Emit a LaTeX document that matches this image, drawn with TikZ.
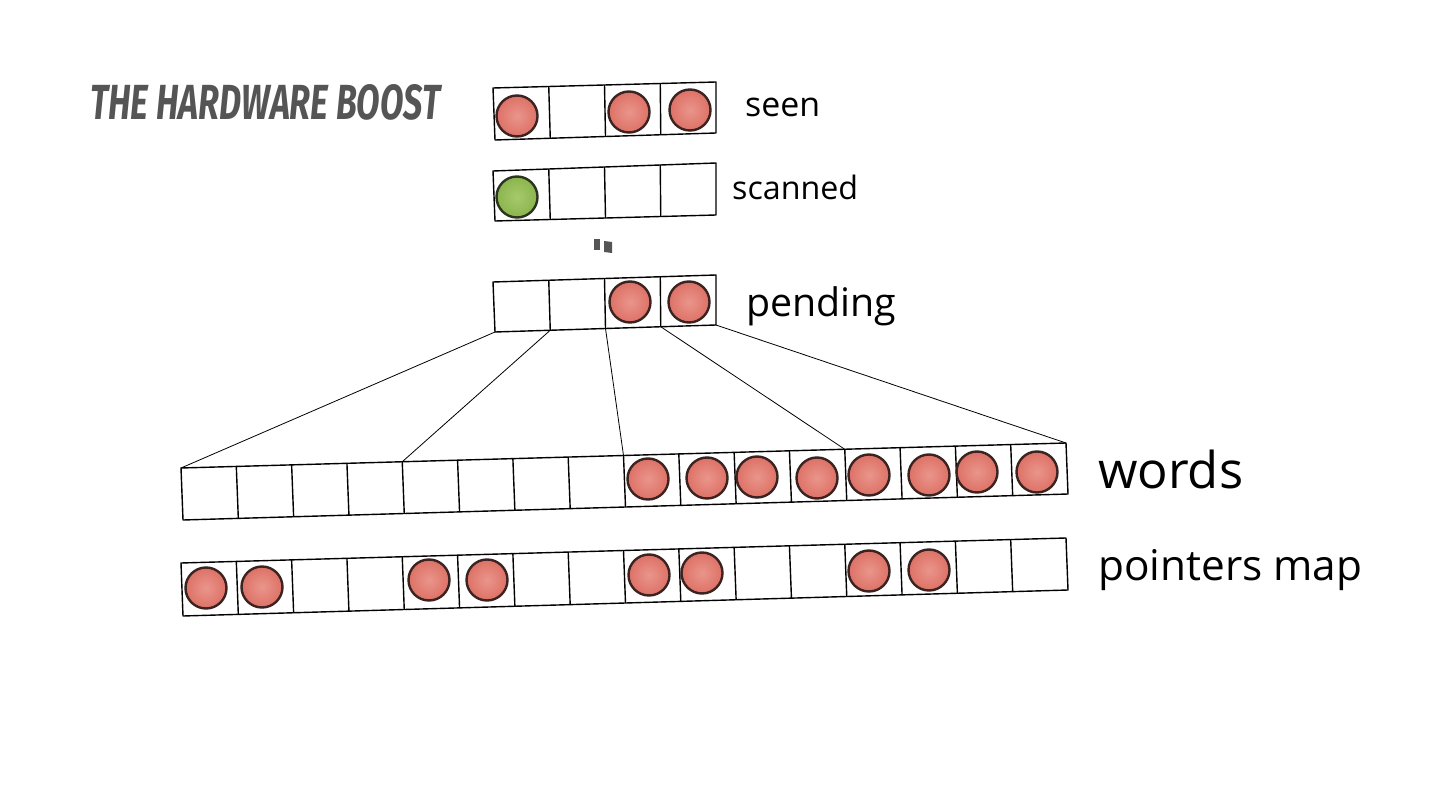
\documentclass[tikz,border=0pt]{standalone}
\usepackage{fontspec}
\setmainfont{Open Sans}
\newfontfamily\titlefont{Fira Sans}
\usetikzlibrary{calc}
\definecolor{dotred}{HTML}{DD7166}
\definecolor{dotredlight}{HTML}{EA958B}
\definecolor{dotedge}{HTML}{3A2320}
\definecolor{dotgreen}{HTML}{8AB54C}
\definecolor{dotgreenlight}{HTML}{A6C96C}
\definecolor{greenedge}{HTML}{2C3420}
\definecolor{titlegray}{HTML}{555555}
\tikzset{
  cellline/.style={line width=1.4pt, black, line join=round},
  link/.style={line width=0.8pt, black},
  reddot/.style={circle, minimum size=41pt, inner sep=0pt, draw=dotedge, line width=2.4pt, inner color=dotredlight, outer color=dotred},
  greendot/.style={circle, minimum size=41pt, inner sep=0pt, draw=greenedge, line width=2.4pt, inner color=dotgreenlight, outer color=dotgreen},
  lbl/.style={anchor=base west, inner sep=0pt, text=black},
  dotmark/.style={fill=titlegray, draw=none},
}
\newcommand\cellrow[6]{%
  \coordinate (#1-t0) at (#3); \coordinate (#1-t#2) at (#4);
  \coordinate (#1-b0) at (#5); \coordinate (#1-b#2) at (#6);
  \pgfmathtruncatemacro\lastk{#2-1}%
  \foreach \k in {1,...,\lastk}{%
    \coordinate (#1-t\k) at ($(#1-t0)!\k/#2!(#1-t#2)$);
    \coordinate (#1-b\k) at ($(#1-b0)!\k/#2!(#1-b#2)$);
    \draw[cellline] (#1-t\k) -- (#1-b\k);
  }%
  \draw[cellline] (#1-t0) -- (#1-t#2) -- (#1-b#2) -- (#1-b0) -- cycle;
}
\begin{document}
\begin{tikzpicture}[x=1pt,y=-1pt]
\useasboundingbox[fill=white] (0,0) rectangle (1440,810);

% title
\node[anchor=base west, inner sep=0pt, text=titlegray] (title) at (90,120)
  {\resizebox{350pt}{35pt}{\titlefont\bfseries\itshape THE HARDWARE BOOST}};

% rows
\cellrow{seen}{4}{493,88}{716,82}{495,140}{716,133}
\cellrow{scan}{4}{493,171}{716,163}{495,221}{716,215}
\cellrow{pend}{4}{493,282}{716,275}{495,332}{716,325}
\cellrow{words}{16}{181,468}{1066,443}{183,520}{1068,494}
\cellrow{ptr}{16}{181,563}{1066,538}{183,616}{1068,590}

% dots
\node[reddot] (s1) at (517,116) {};
\node[reddot] (s3) at (629,112) {};
\node[reddot] (s4) at (690,110) {};
\node[greendot] (c1) at (517,197) {};
\node[reddot] (p3) at (630,302) {};
\node[reddot] (p4) at (689,302) {};
\foreach \x/\y [count=\i] in {648/479,707/478,757/477,817/478,869/475,929/475,977/472,1037/472}
  \node[reddot] (w\i) at (\x,\y) {};
\foreach \x/\y [count=\i] in {206/588,262/587,429/580,487/580,649/575,702/573,869/571,929/570}
  \node[reddot] (m\i) at (\x,\y) {};

% ellipsis marks
\fill[dotmark] (594,239) -- (600,239) -- (600,250) -- (594,250) -- cycle;
\fill[dotmark] (604,241) -- (612,242) -- (612,253) -- (604,252) -- cycle;

% connectors
\draw[link] (pend-b0) -- (words-t0);
\draw[link] (pend-b1) -- (words-t4);
\draw[link] (pend-b2) -- (words-t8);
\draw[link] (pend-b3) -- (words-t12);
\draw[link] (pend-b4) -- (words-t16);

% labels
\node[lbl] (lseen) at (745,117) {\resizebox{75pt}{!}{seen}};
\node[lbl] (lscan) at (732,200) {\resizebox{126pt}{!}{scanned}};
\node[lbl] (lpend) at (746,316) {\resizebox{150pt}{!}{pending}};
\node[lbl] (lwords) at (1098,488) {\resizebox{145pt}{!}{words}};
\node[lbl] (lptr) at (1098,580) {\resizebox{264pt}{!}{pointers map}};
\end{tikzpicture}
\end{document}
